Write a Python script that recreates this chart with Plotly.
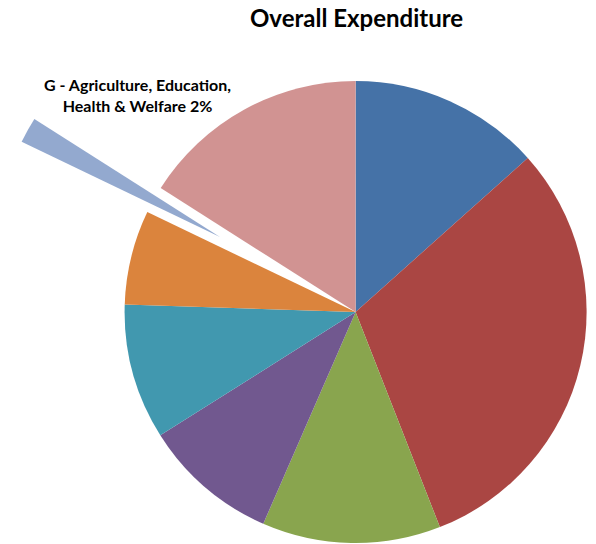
import plotly.graph_objects as go

categories = ["A", "B", "C", "D", "E", "F",
              "G - Agriculture, Education, Health & Welfare", "H"]
values = [13.4, 30.7, 12.5, 9.5, 9.5, 6.6, 1.9, 16.0]
colors = ["#4572A7", "#AA4643", "#89A54E", "#71588F",
          "#4198AF", "#DB843D", "#93A9CF", "#D19392"]
exploded = "G - Agriculture, Education, Health & Welfare"
label_text = "G - Agriculture, Education,<br>Health & Welfare 2%"
title_text = "Overall Expenditure"

W, H = 596, 544
clear = "rgba(0,0,0,0)"

main_colors = [clear if c == exploded else col for c, col in zip(categories, colors)]
ex_colors = [col if c == exploded else clear for c, col in zip(categories, colors)]

# main pie: centre (355.6, 312), radius 231
cx, cy, r = 355.6, 312.0, 231.0
main_dom_x = [(cx - r) / W, (cx + r) / W]
main_dom_y = [(H - cy - r) / H, (H - cy + r) / H]

# exploded slice drawn by a second pie whose centre sits at the pulled-out position
ecx, ecy, er = 220.0, 237.0, 220.0
ex_dom_x = [(ecx - er) / W, (ecx + er) / W]
ex_dom_y = [(H - ecy - er) / H, (H - ecy + er) / H]

fig = go.Figure()
fig.add_trace(go.Pie(
    labels=categories, values=values, sort=False, direction="clockwise",
    rotation=0, marker=dict(colors=main_colors, line=dict(width=0)),
    textinfo="none", showlegend=False,
    domain=dict(x=main_dom_x, y=main_dom_y),
))
fig.add_trace(go.Pie(
    labels=categories, values=values, sort=False, direction="clockwise",
    rotation=0, marker=dict(colors=ex_colors, line=dict(width=0)),
    textinfo="none", showlegend=False, hoverinfo="skip",
    domain=dict(x=ex_dom_x, y=ex_dom_y),
))

fig.add_annotation(
    text=title_text, x=356 / W, y=1 - 18 / H, xref="paper", yref="paper",
    showarrow=False, xanchor="center", yanchor="middle",
    font=dict(family="Lato", size=24, color="#000000", weight="bold"),
)
fig.add_annotation(
    text=label_text, x=137.5 / W, y=1 - 95 / H, xref="paper", yref="paper",
    showarrow=False, xanchor="center", yanchor="middle", align="center",
    font=dict(family="Lato", size=16, color="#000000", weight="bold"),
)

fig.update_layout(
    width=W, height=H, margin=dict(l=0, r=0, t=0, b=0),
    paper_bgcolor="white", plot_bgcolor="white",
)
fig.write_html("out.html", config={"displayModeBar": False},
               post_script="document.body.style.margin='0';")
